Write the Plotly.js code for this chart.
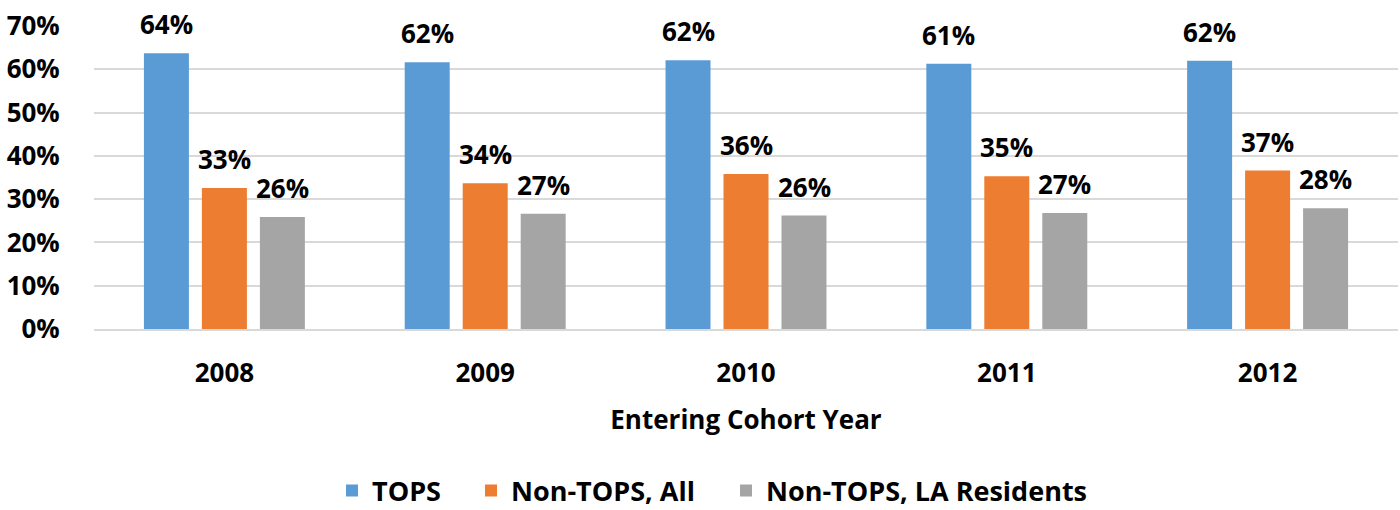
<!DOCTYPE html>
<html>
<head>
<meta charset="utf-8">
<script src="https://cdn.plot.ly/plotly-3.0.1.min.js"></script>
<style>
  html, body { margin: 0; padding: 0; background: #fff; }
  #chart { width: 1400px; height: 510px; }
</style>
</head>
<body>
<div id="chart"></div>
<script>
const categories = ['2008', '2009', '2010', '2011', '2012'];
const seriesNames = ['TOPS', 'Non-TOPS, All', 'Non-TOPS, LA Residents'];
const topsValues = [63.7, 61.6, 62.1, 61.3, 62.0];
const nonTopsAllValues = [32.6, 33.7, 35.8, 35.3, 36.6];
const nonTopsLAValues = [25.9, 26.6, 26.2, 26.8, 27.9];
const colors = ['#5B9BD5', '#ED7D31', '#A5A5A5'];
const yTickValues = [0, 10, 20, 30, 40, 50, 60, 70];
const yTickLabels = ['0%', '10%', '20%', '30%', '40%', '50%', '60%', '70%'];

const FONT = 'Open Sans, Noto Sans, sans-serif';
const allSeries = [topsValues, nonTopsAllValues, nonTopsLAValues];
const legendIds = ['legend', 'legend2', 'legend3'];

const traces = allSeries.map((vals, i) => ({
  type: 'bar',
  name: seriesNames[i],
  legend: legendIds[i],
  x: categories,
  y: vals,
  marker: { color: colors[i], line: { width: 0 } },
  hoverinfo: 'skip'
}));

const barOffsets = [-58, 0, 58];
const annotations = [];
allSeries.forEach((vals, i) => {
  vals.forEach((v, j) => {
    annotations.push({
      x: j, y: v, xref: 'x', yref: 'y',
      text: Math.round(v) + '%',
      showarrow: false,
      xanchor: 'center', yanchor: 'bottom',
      xshift: barOffsets[i], yshift: 9,
      font: { family: FONT, size: 26, color: '#000', weight: 700 }
    });
  });
});

const W = 1400, H = 510;
const legendTextStarts = [373, 512, 767];
const legendCenterY = 491;
function legendBox(i) {
  return {
    orientation: 'h',
    xref: 'container', x: (legendTextStarts[i] - 41) / W, xanchor: 'left',
    yref: 'container', y: 1 - legendCenterY / H, yanchor: 'middle',
    font: { family: FONT, size: 27, color: '#000', weight: 700 },
    bgcolor: 'rgba(0,0,0,0)',
    itemclick: false, itemdoubleclick: false
  };
}

const layout = {
  width: W, height: H,
  margin: { l: 94, r: 2, t: 26, b: 181 },
  paper_bgcolor: '#fff', plot_bgcolor: '#fff',
  barmode: 'group',
  bargap: 0.333,
  bargroupgap: 0.224,
  showlegend: true,
  legend: legendBox(0),
  legend2: legendBox(1),
  legend3: legendBox(2),
  xaxis: {
    type: 'category',
    range: [-0.5, 4.5], autorange: false,
    showgrid: false, zeroline: false,
    showline: true, linecolor: '#D9D9D9', linewidth: 2,
    ticks: 'outside', ticklen: 20, tickcolor: 'rgba(0,0,0,0)',
    tickfont: { family: FONT, size: 26, color: '#000', weight: 700 },
    title: { text: 'Entering Cohort Year', standoff: 22,
             font: { family: FONT, size: 26, color: '#000', weight: 700 } }
  },
  yaxis: {
    range: [0, 70], autorange: false,
    tickvals: yTickValues, ticktext: yTickLabels,
    showgrid: true, gridcolor: '#D9D9D9', gridwidth: 2,
    zeroline: false, showline: false,
    ticks: 'outside', ticklen: 28, tickcolor: 'rgba(0,0,0,0)',
    tickfont: { family: FONT, size: 26, color: '#000', weight: 700 }
  },
  annotations: annotations,
  font: { family: FONT, color: '#000' }
};

Plotly.newPlot('chart', traces, layout, { displayModeBar: false, staticPlot: true });
</script>
</body>
</html>
